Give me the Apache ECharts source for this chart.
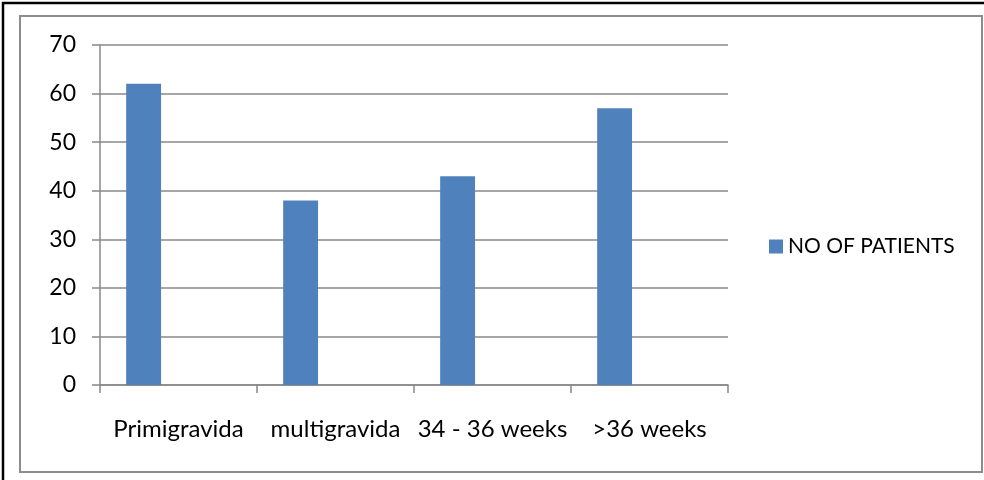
<!DOCTYPE html>
<html>
<head>
<meta charset="utf-8">
<script src="https://cdn.jsdelivr.net/npm/echarts@6/dist/echarts.min.js"></script>
<style>html,body{margin:0;padding:0;background:#fff;}#c{width:984px;height:480px;}</style>
</head>
<body>
<div id="c"></div>
<script>
var categories = ['Primigravida', 'multigravida', '34 - 36 weeks', '>36 weeks'];
var patients = [62, 38, 43, 57];
var emptySeries = [null, null, null, null];
var yTicks = { min: 0, max: 70, interval: 10 };
var seriesName = 'NO OF PATIENTS';

var FONT = 'Lato';
var chart = echarts.init(document.getElementById('c'), null, { renderer: 'canvas' });
chart.setOption({
  backgroundColor: '#fff',
  animation: false,
  graphic: [
    { type: 'rect', shape: { x: 3, y: 3, width: 990, height: 490 }, style: { fill: 'none', stroke: '#000', lineWidth: 2.5 }, silent: true },
    { type: 'rect', shape: { x: 20, y: 16, width: 962, height: 456 }, style: { fill: 'none', stroke: '#8c8c8c', lineWidth: 2 }, silent: true }
  ],
  grid: { left: 100, right: 256, top: 45, bottom: 95, containLabel: false },
  legend: {
    data: [seriesName],
    orient: 'vertical',
    left: 764,
    top: 231,
    icon: 'rect',
    itemWidth: 14,
    itemHeight: 14,
    itemGap: 6,
    textStyle: { fontFamily: FONT, fontSize: 21, color: '#000' }
  },
  xAxis: {
    type: 'category',
    data: categories,
    axisLine: { show: true, lineStyle: { color: '#888', width: 1.5 } },
    axisTick: { show: true, length: 8, lineStyle: { color: '#888', width: 1.5 } },
    axisLabel: { margin: 32, fontFamily: FONT, fontSize: 24, color: '#000', interval: 0 }
  },
  yAxis: {
    type: 'value',
    min: yTicks.min,
    max: yTicks.max,
    interval: yTicks.interval,
    axisLine: { show: true, lineStyle: { color: '#888', width: 1.5 } },
    axisTick: { show: true, length: 8, lineStyle: { color: '#888', width: 1.5 } },
    splitLine: { show: true, lineStyle: { color: '#888', width: 1.5 } },
    axisLabel: { margin: 24, fontFamily: FONT, fontSize: 23, color: '#000' }
  },
  series: [
    { name: seriesName, type: 'bar', data: patients, barGap: '0%', barCategoryGap: '33.33%', itemStyle: { color: '#4F81BD' } },
    { name: 's2', type: 'bar', data: emptySeries, barGap: '0%', barCategoryGap: '33.33%' },
    { name: 's3', type: 'bar', data: emptySeries, barGap: '0%', barCategoryGap: '33.33%' }
  ]
});
</script>
</body>
</html>
